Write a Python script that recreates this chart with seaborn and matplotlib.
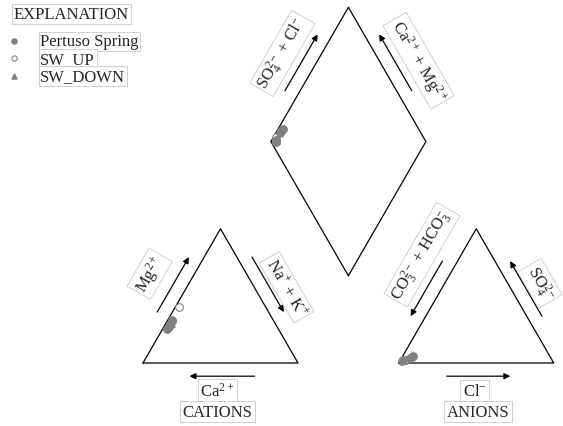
import numpy as np
import pandas as pd
import seaborn as sns
import matplotlib.pyplot as plt

# Data: milliequivalent fractions
groups = ["Pertuso Spring"] * 5 + ["SW_UP", "SW_DOWN"]
ca = np.array([0.72, 0.70, 0.68, 0.66, 0.65, 0.56, 0.67])
mg = np.array([0.25, 0.27, 0.29, 0.31, 0.32, 0.42, 0.30])
nak = 1 - ca - mg
cl = np.array([0.015, 0.02, 0.05, 0.06, 0.07, 0.03, 0.02])
so4 = np.array([0.015, 0.02, 0.04, 0.045, 0.05, 0.02, 0.02])
hco3 = 1 - cl - so4

# Piper geometry (triangle side = 1)
GAP = 0.65
H = np.sqrt(3) / 2
bx, by = 1 + GAP / 2, GAP * H

# project samples into the three fields
cat_x = nak + 0.5 * mg
cat_y = H * mg
an_x = 1 + GAP + cl + 0.5 * so4
an_y = H * so4
dia_x = bx + 0.5 * ((cl + so4) - (ca + mg))
dia_y = by + H * ((cl + so4) + (ca + mg))

df = pd.DataFrame({
    "x": np.concatenate([cat_x, an_x, dia_x]),
    "y": np.concatenate([cat_y, an_y, dia_y]),
    "group": groups * 3,
})

sns.set_theme(style="white")
plt.rcParams["font.family"] = ["Liberation Serif", "DejaVu Serif"]
plt.rcParams["mathtext.fontset"] = "custom"
plt.rcParams["mathtext.rm"] = "Liberation Serif"
plt.rcParams["mathtext.it"] = "Liberation Serif:italic"

fig = plt.figure(figsize=(5.63, 4.27), dpi=100)
ax = fig.add_axes([0, 0, 1, 1])
ax.set_xlim(-143 / 155, 420 / 155)
ax.set_ylim(-63 / 155, 364 / 155)
ax.axis("off")

# outlines
tri = np.array([[0, 0], [1, 0], [0.5, H], [0, 0]])
ax.plot(tri[:, 0], tri[:, 1], color="black", lw=0.9)
ax.plot(tri[:, 0] + 1 + GAP, tri[:, 1], color="black", lw=0.9)
dia = np.array([[bx, by], [bx - 0.5, by + H], [bx, by + 2 * H], [bx + 0.5, by + H], [bx, by]])
ax.plot(dia[:, 0], dia[:, 1], color="black", lw=0.9)


def along(p0, p1, t, off, sign):
    p0, p1 = np.asarray(p0, float), np.asarray(p1, float)
    d = (p1 - p0) / np.hypot(*(p1 - p0))
    n = np.array([-d[1], d[0]]) * sign
    return p0 + t * (p1 - p0) + off * n


def arrow(p0, p1, t_from, t_to, sign, off=0.085):
    ax.annotate("", xy=along(p0, p1, t_to, off, sign), xytext=along(p0, p1, t_from, off, sign),
                arrowprops=dict(arrowstyle="-|>", color="black", lw=0.9, mutation_scale=9,
                                shrinkA=0, shrinkB=0))


box = dict(boxstyle="square,pad=0.15", fc="white", ec="#c8c8c8", lw=0.6)


def label(p0, p1, t, off, sign, text, rot):
    x, y = along(p0, p1, t, off, sign)
    ax.text(x, y, text, rotation=rot, ha="center", va="center", fontsize=12,
            rotation_mode="anchor", bbox=box)


A0 = 1 + GAP
L, T, R = (bx - 0.5, by + H), (bx, by + 2 * H), (bx + 0.5, by + H)

# cation triangle
arrow((0, 0), (0.5, H), 0.33, 0.74, 1)
arrow((1, 0), (0.5, H), 0.74, 0.33, -1)
arrow((0, 0), (1, 0), 0.72, 0.30, -1)
label((0, 0), (0.5, H), 0.52, 0.25, 1, r"Mg$^{2+}$", 60)
label((1, 0), (0.5, H), 0.46, 0.18, -1, r"Na$^{+}$ + K$^{+}$", -60)
ax.text(0.48, -0.18, r"Ca$^{2+}$", ha="center", va="center", fontsize=12, bbox=box)
ax.text(0.48, -0.315, "CATIONS", ha="center", va="center", fontsize=12, bbox=box)

# anion triangle
arrow((A0, 0), (A0 + 0.5, H), 0.71, 0.30, 1)
arrow((A0 + 1, 0), (A0 + 0.5, H), 0.30, 0.71, -1)
arrow((A0, 0), (A0 + 1, 0), 0.31, 0.72, -1)
label((A0, 0), (A0 + 0.5, H), 0.68, 0.22, 1, r"CO$_3^{2-}$ + HCO$_3^{-}$", 60)
label((A0 + 1, 0), (A0 + 0.5, H), 0.49, 0.18, -1, r"SO$_4^{2-}$", -60)
ax.text(A0 + 0.49, -0.18, r"Cl$^{-}$", ha="center", va="center", fontsize=12, bbox=box)
ax.text(A0 + 0.51, -0.315, "ANIONS", ha="center", va="center", fontsize=12, bbox=box)

# diamond
arrow(L, T, 0.33, 0.75, 1)
arrow(R, T, 0.33, 0.75, -1)
label(L, T, 0.53, 0.22, 1, r"SO$_4^{2-}$ + Cl$^{-}$", 60)
label(R, T, 0.475, 0.22, -1, r"Ca$^{2+}$ + Mg$^{2+}$", -60)

# samples
grey = "#808080"
styles = [("SW_UP", "o", "white"), ("SW_DOWN", "^", grey), ("Pertuso Spring", "o", grey)]
for name, marker, face in styles:
    sns.scatterplot(data=df[df.group == name], x="x", y="y", marker=marker, color=face,
                    edgecolor=grey, linewidth=0.8, s=30, label=name, ax=ax, zorder=3)

# explanation block
fig.text(14 / 563, 1 - 15 / 427, "EXPLANATION", ha="left", va="center", fontsize=12,
         bbox=dict(boxstyle="square,pad=0.1", fc="white", ec="#c8c8c8", lw=0.6))
handles, labels = ax.get_legend_handles_labels()
order = [2, 0, 1]
leg = ax.legend([handles[i] for i in order], [labels[i] for i in order],
                loc="upper left", bbox_to_anchor=(0.0034, 0.947), bbox_transform=fig.transFigure,
                frameon=False, fontsize=12, handlelength=0.1, handletextpad=1.5,
                labelspacing=0.08, borderpad=0.2, markerscale=0.7)
for t in leg.get_texts():
    t.set_bbox(dict(boxstyle="square,pad=0.1", fc="white", ec="#c8c8c8", lw=0.6))

fig.savefig("out.png", dpi=100)
